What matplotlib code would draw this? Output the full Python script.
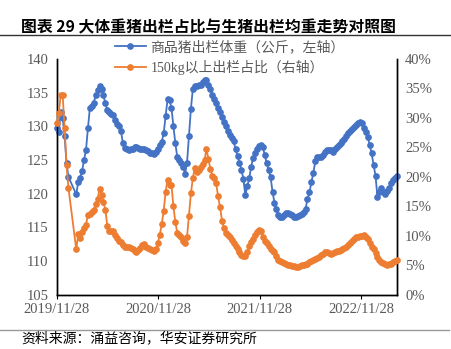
import numpy as np
import pandas as pd
import matplotlib
matplotlib.use("Agg")
import matplotlib.pyplot as plt
from matplotlib.lines import Line2D
from matplotlib.ticker import FuncFormatter

# weekly data since 2019/11/28, three weeks missing after the 7th point
dates = pd.date_range("2019-11-28", periods=176, freq="7D")
dates = dates.delete([7, 8, 9])

weight = [129.8, 129.1, 132.2, 131.2, 128.6, 124.5, 122.5,
          119.9, 121.8, 122.4, 123.4, 125.0, 126.5, 129.7, 132.7, 133.0, 133.5,
          134.6, 135.4, 136.0, 135.5, 134.6, 133.4, 132.4, 132.1, 131.9, 131.7,
          131.0, 130.4, 130.0, 129.3, 127.5, 126.8, 126.6, 126.5, 126.6, 126.7,
          126.9, 127.0, 126.8, 126.6, 126.6, 126.7, 126.5, 126.3, 126.1, 126.0,
          125.9, 126.2, 126.6, 127.2, 127.7, 129.0, 131.6, 134.0, 133.9, 132.7,
          130.0, 127.5, 125.4, 125.0, 124.5, 124.0, 123.0, 124.6, 128.5, 132.6,
          135.6, 136.0, 136.0, 136.1, 136.2, 136.6, 136.9, 136.9, 136.2, 135.5,
          134.7, 134.0, 133.5, 132.8, 132.1, 131.4, 130.7, 130.0, 129.3, 128.7,
          128.3, 127.8, 126.6, 125.6, 124.6, 123.6, 122.2, 119.8, 121.1, 122.3,
          124.0, 125.3, 126.0, 126.7, 127.1, 127.2, 126.9, 125.8, 124.5, 123.5,
          122.5, 120.3, 118.7, 117.8, 116.9, 116.5, 116.5, 116.8, 117.1, 117.2,
          117.0, 116.8, 116.6, 116.6, 116.7, 116.8, 117.0, 117.3, 117.8, 119.2,
          120.2, 121.7, 123.1, 124.8, 125.5, 125.5, 125.4, 125.7, 126.2, 126.5,
          126.5, 126.5, 126.2, 126.6, 127.0, 127.2, 127.5, 127.9, 128.2, 128.6,
          129.0, 129.3, 129.6, 129.9, 130.2, 130.5, 130.7, 130.5, 129.8, 129.1,
          128.4, 127.3, 126.0, 124.3, 122.7, 119.5, 120.2, 120.9, 120.2, 119.9,
          120.4, 120.8, 121.6, 122.0, 122.3, 122.6]

share150 = [29.2, 30.8, 33.9, 33.9, 28.3, 22.0, 18.1,
            7.7, 10.3, 9.6, 10.6, 11.3, 11.9, 13.6, 13.8, 14.0, 14.4,
            15.4, 16.3, 18.0, 17.0, 15.7, 14.4, 11.6, 10.8, 10.8, 10.9,
            10.1, 9.6, 9.2, 8.9, 8.5, 8.2, 8.1, 8.2, 8.0, 7.7,
            7.5, 7.3, 7.6, 8.0, 8.4, 8.6, 8.2, 7.9, 7.7, 7.6,
            7.5, 7.8, 8.8, 10.2, 12.0, 14.3, 17.5, 19.5, 18.6, 18.6,
            15.0, 12.3, 10.5, 10.2, 9.8, 9.2, 8.8, 9.8, 13.4, 17.2,
            19.8, 21.5, 20.8, 21.2, 21.7, 22.2, 22.8, 24.8, 23.0, 21.4,
            20.2, 19.9, 18.9, 16.7, 14.9, 12.6, 11.3, 10.5, 10.2, 9.8,
            9.3, 8.8, 8.3, 7.8, 7.3, 6.8, 6.6, 6.6, 7.3, 8.3,
            8.9, 9.4, 10.2, 10.7, 11.0, 10.9, 9.9, 9.2, 8.8, 8.3,
            7.8, 7.5, 7.2, 6.6, 5.9, 5.7, 5.6, 5.4, 5.3, 5.1,
            5.0, 4.9, 4.85, 4.8, 4.8, 4.9, 5.0, 5.1, 5.2, 5.3,
            5.5, 5.7, 5.9, 6.1, 6.3, 6.4, 6.7, 7.0, 7.2, 7.3,
            7.1, 7.0, 7.1, 7.3, 7.4, 7.5, 7.6, 7.7, 7.9, 8.2,
            8.5, 8.8, 9.2, 9.5, 9.8, 9.9, 10.0, 10.0, 10.1, 9.9,
            9.5, 8.8, 8.2, 7.8, 7.1, 6.5, 6.0, 5.6, 5.4, 5.2,
            5.1, 5.2, 5.3, 5.5, 5.7, 5.9]

tick_dates = ["2019-11-28", "2020-11-28", "2021-11-28", "2022-11-28"]
tick_labels = ["2019/11/28", "2020/11/28", "2021/11/28", "2022/11/28"]
label_w = "商品猪出栏体重（公斤，左轴）"
label_s = "150kg以上出栏占比（右轴）"
title = "图表 29 大体重猪出栏占比与生猪出栏均重走势对照图"
source = "资料来源：涌益咨询，华安证券研究所"

blue = "#4472C4"
orange = "#ED7D31"
grey = "#595959"
serif = "Liberation Serif"
cjk = ["Liberation Serif", "Noto Sans CJK SC", "DejaVu Sans"]

fig = plt.figure(figsize=(4.51, 3.49), dpi=100)
ax = fig.add_axes([0.126, 0.155, 0.754, 0.676])
ax2 = ax.twinx()

l1, = ax.plot(dates, weight, color=blue, lw=1.3, marker="o", ms=3.8,
              clip_on=False, zorder=3)
l2, = ax2.plot(dates, share150, color=orange, lw=1.3, marker="o", ms=3.8,
               clip_on=False, zorder=3)

ax.set_xlim(dates[0], dates[-1])
ax.set_ylim(105, 140)
ax.set_yticks(np.arange(105, 141, 5))
ax2.set_ylim(0, 40)
ax2.set_yticks(np.arange(0, 41, 5))
ax2.yaxis.set_major_formatter(FuncFormatter(lambda v, p: "%d%%" % v))

ax.set_xticks(pd.to_datetime(tick_dates))
ax.set_xticklabels(tick_labels)

for a in (ax, ax2):
    a.spines["top"].set_visible(False)
    for s in ("left", "right", "bottom"):
        a.spines[s].set_color("black")
        a.spines[s].set_linewidth(1.0)
    a.tick_params(axis="y", length=0, pad=6, labelcolor=grey, labelsize=10.5)
    for t in a.get_yticklabels():
        t.set_family(serif)
ax.tick_params(axis="x", direction="out", length=3, color="black",
               labelcolor=grey, labelsize=10.5, pad=3)
for t in ax.get_xticklabels():
    t.set_family(serif)

leg = ax.legend([l1, l2], [label_w, label_s], loc="upper left",
                bbox_to_anchor=(0.255, 0.885), bbox_transform=fig.transFigure,
                frameon=False, borderpad=0, borderaxespad=0, handlelength=2.2,
                handletextpad=0.35, labelspacing=0.42,
                prop={"family": cjk, "size": 10})
for t in leg.get_texts():
    t.set_color(grey)
leg.set_zorder(5)

fig.text(0.047, 0.922, title, fontsize=11.4, fontweight="bold",
         family=["Noto Sans CJK SC", "DejaVu Sans"], va="center")
fig.add_artist(Line2D([0, 1], [0.901, 0.901], color="#333333", lw=1.0,
                      transform=fig.transFigure))
fig.add_artist(Line2D([0, 0.995], [0.054, 0.054], color="#999999", lw=1.0,
                      transform=fig.transFigure))
fig.text(0.047, 0.031, source, fontsize=10,
         family=["Noto Sans CJK SC", "DejaVu Sans"], va="center")

fig.savefig("out.png", dpi=100)
